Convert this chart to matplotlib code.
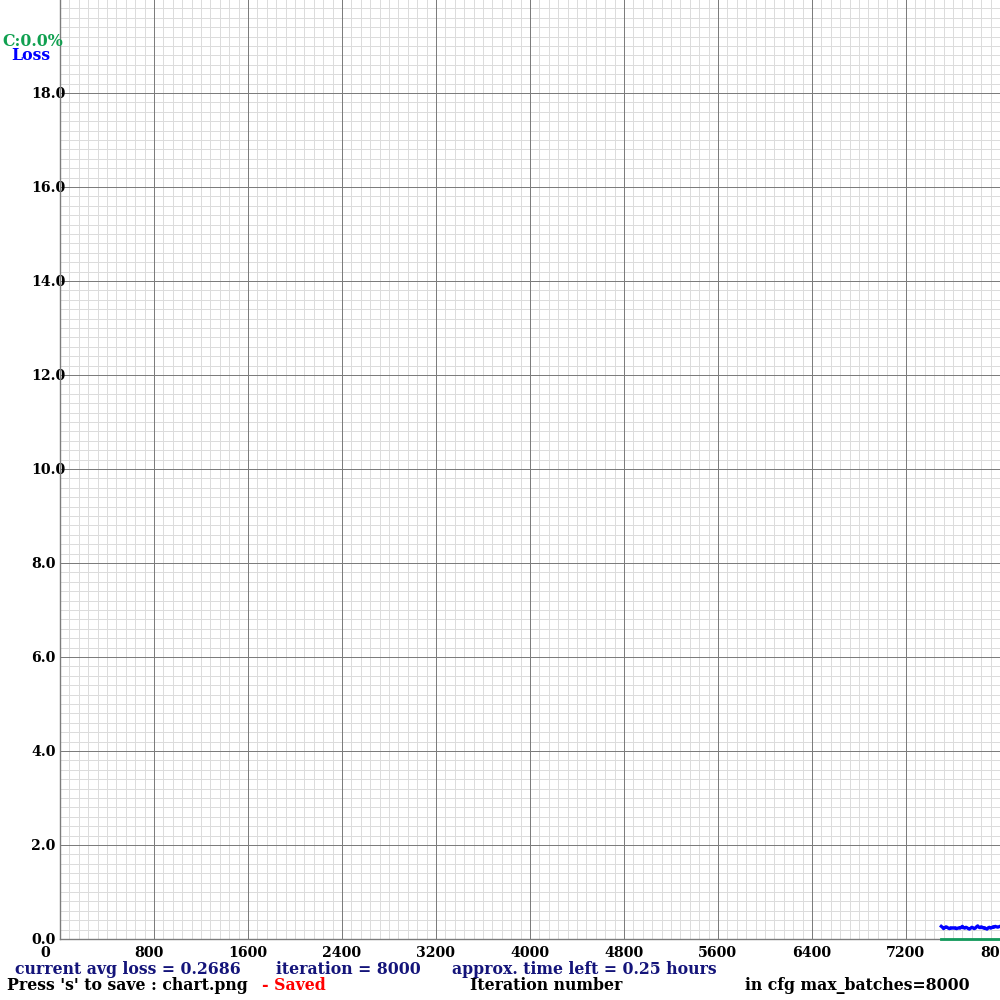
import matplotlib
matplotlib.use("Agg")
import matplotlib.pyplot as plt
import matplotlib.transforms as mtransforms
import numpy as np

# ---- data ----
max_batches = 8000
x_ticks = [0, 800, 1600, 2400, 3200, 4000, 4800, 5600, 6400, 7200, 8000]
x_tick_labels = ["0", "800", "1600", "2400", "3200", "4000", "4800", "5600", "6400", "7200", "8000"]
y_ticks = [0, 2, 4, 6, 8, 10, 12, 14, 16, 18]
y_tick_labels = ["0.0", "2.0", "4.0", "6.0", "8.0", "10.0", "12.0", "14.0", "16.0", "18.0"]

loss_iters = list(range(7500, 8001, 10))
loss_values = [0.27, 0.25, 0.22, 0.24, 0.26, 0.25, 0.23, 0.22, 0.24, 0.23,
               0.24, 0.23, 0.24, 0.22, 0.23, 0.24, 0.23, 0.25, 0.27, 0.24,
               0.23, 0.25, 0.24, 0.22, 0.21, 0.23, 0.25, 0.24, 0.22, 0.23,
               0.26, 0.28, 0.25, 0.24, 0.26, 0.25, 0.23, 0.24, 0.22, 0.21,
               0.24, 0.25, 0.23, 0.24, 0.26, 0.25, 0.27, 0.26, 0.25, 0.26, 0.27]
map_iters = [7500, 8000]
map_values = [0.0, 0.0]

# ---- style ----
FONT = "DejaVu Serif"
FS = 11.3
FS_TICK = 10.2
NAVY = "#14147a"
GREEN = "#10a050"
BLUE = "#0000ff"

fig = plt.figure(figsize=(10, 10), dpi=100)
fig.patch.set_facecolor("white")
ax = fig.add_axes([0.06, 0.061, 0.94, 0.94])
ax.set_xlim(0, max_batches)
ax.set_ylim(0, 20)

# grids
for v in np.arange(0, max_batches + 1, 80):
    ax.axvline(v, color="#dcdcdc", linewidth=0.72, zorder=0, antialiased=False)
for v in np.arange(0, 20.01, 0.2):
    ax.axhline(v, color="#dcdcdc", linewidth=0.72, zorder=0, antialiased=False)
for v in x_ticks:
    ax.axvline(v, color="#7c7c7c", linewidth=0.72, zorder=1, antialiased=False)
for v in y_ticks:
    ax.axhline(v, color="#7c7c7c", linewidth=0.72, zorder=1, antialiased=False)
ax.set_xticks(x_ticks, x_tick_labels)
ax.set_yticks(y_ticks, y_tick_labels)

for s in ["top", "right"]:
    ax.spines[s].set_visible(False)
for s in ["left", "bottom"]:
    ax.spines[s].set_color("#7c7c7c")
    ax.spines[s].set_linewidth(1.0)

ax.tick_params(which="both", length=0)
ax.tick_params(axis="x", pad=5)
ax.tick_params(axis="y", pad=0)

xoff = mtransforms.ScaledTranslation(-20 / 100, 0, fig.dpi_scale_trans)
for lab in ax.get_xticklabels():
    lab.set_ha("left")
    lab.set_transform(lab.get_transform() + xoff)
    lab.set_fontfamily(FONT)
    lab.set_fontweight("bold")
    lab.set_fontsize(FS_TICK)
    lab.set_color("black")
yoff = mtransforms.ScaledTranslation(-29 / 100, 0.01, fig.dpi_scale_trans)
for lab in ax.get_yticklabels():
    lab.set_ha("left")
    lab.set_transform(lab.get_transform() + yoff)
    lab.set_fontfamily(FONT)
    lab.set_fontweight("bold")
    lab.set_fontsize(FS_TICK)
    lab.set_color("black")

# lines
ax.plot(map_iters, map_values, color="#139a5c", linewidth=2.0, clip_on=False, zorder=3)
ax.plot(loss_iters, loss_values, color=BLUE, linewidth=2.3, zorder=4, clip_on=False)

def ftext(x, y, s, color, **kw):
    fig.text(x / 1000, 1 - y / 1000, s, color=color, fontfamily=FONT,
             fontweight="bold", fontsize=FS, va="center", ha="left", **kw)

ftext(2, 41, "C:0.0%", GREEN)
ftext(11, 56, "Loss", BLUE)

ftext(15, 969, "current avg loss = 0.2686", NAVY)
ftext(276, 969, "iteration = 8000", NAVY)
ftext(452, 969, "approx. time left = 0.25 hours", NAVY)
ftext(7, 986, "Press 's' to save : chart.png", "black")
ftext(262, 986, "- Saved", "red")
ftext(470, 986, "Iteration number", "black")
ftext(745, 986, "in cfg max_batches=8000", "black")

fig.savefig("out.png", dpi=100, facecolor="white")
